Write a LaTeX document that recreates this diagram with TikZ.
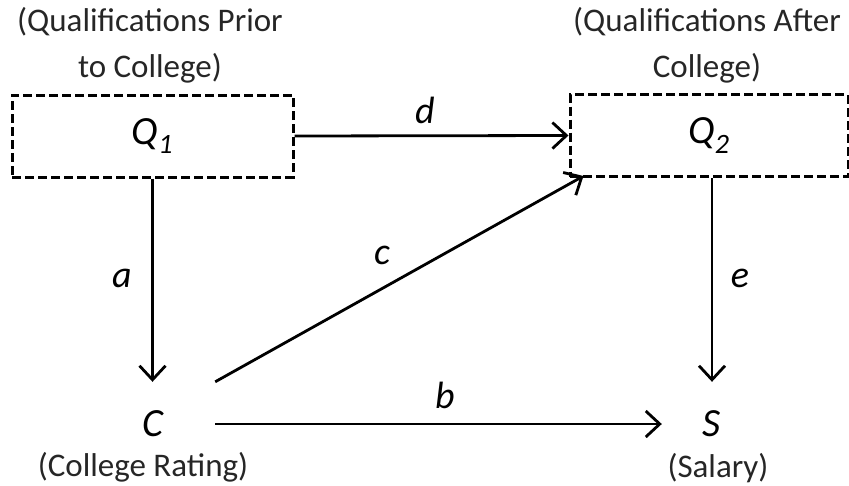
\documentclass[tikz,border=0pt]{standalone}
\usepackage{fontspec}
\setmainfont{Carlito}
\usetikzlibrary{arrows.meta}
\tikzset{
  lbl/.style={font=\fontsize{33}{46}\selectfont, text=black!85, align=center, inner sep=0pt},
  elbl/.style={font=\fontsize{38}{46}\selectfont\itshape, inner sep=0pt},
  qbox/.style={draw, dashed, dash pattern=on 9pt off 4pt, line width=3pt, minimum width=281pt, minimum height=82pt, inner sep=0pt, font=\fontsize{40}{46}\selectfont\itshape},
  vbox/.style={minimum width=124pt, minimum height=84pt, inner sep=0pt, font=\fontsize{40}{46}\selectfont\itshape},
  arr/.style={line width=2.8pt, -{Straight Barb[length=14pt,width=26pt,line width=2.8pt]}}
}
\begin{document}
\begin{tikzpicture}[x=1pt,y=-1pt]
\useasboundingbox (0,0) rectangle (849,485);
\node[qbox] (q1) at (152.5,136) {Q\textsubscript{1}};
\node[qbox, minimum width=278pt] (q2) at (709,135.5) {Q\textsubscript{2}};
\node[vbox] (c) at (153,424) {C};
\node[vbox, minimum width=100pt] (s) at (712,424) {S};
\node[lbl] (t1) at (150,45) {(Qualifications Prior\\to College)};
\node[lbl] (t2) at (707,45) {(Qualifications After\\College)};
\node[lbl] (t3) at (143,467) {(College Rating)};
\node[lbl] (t4) at (718,468) {(Salary)};
\draw[arr] (q1.east) -- (q2.west);
\draw[arr] (q1.south) -- (q1.south |- c.north);
\draw[arr] (c.east) -- (s.west);
\draw[arr] (q2.south -| s.north) -- (s.north);
\draw[arr] (c.north east) -- ([xshift=15pt,yshift=2pt]q2.south west);
\node[elbl] (ld) at (425,110) {d};
\node[elbl] (la) at (122,278) {a};
\node[elbl] (lc) at (382,255) {c};
\node[elbl] (lb) at (445,395) {b};
\node[elbl] (le) at (740,278) {e};
\end{tikzpicture}
\end{document}
